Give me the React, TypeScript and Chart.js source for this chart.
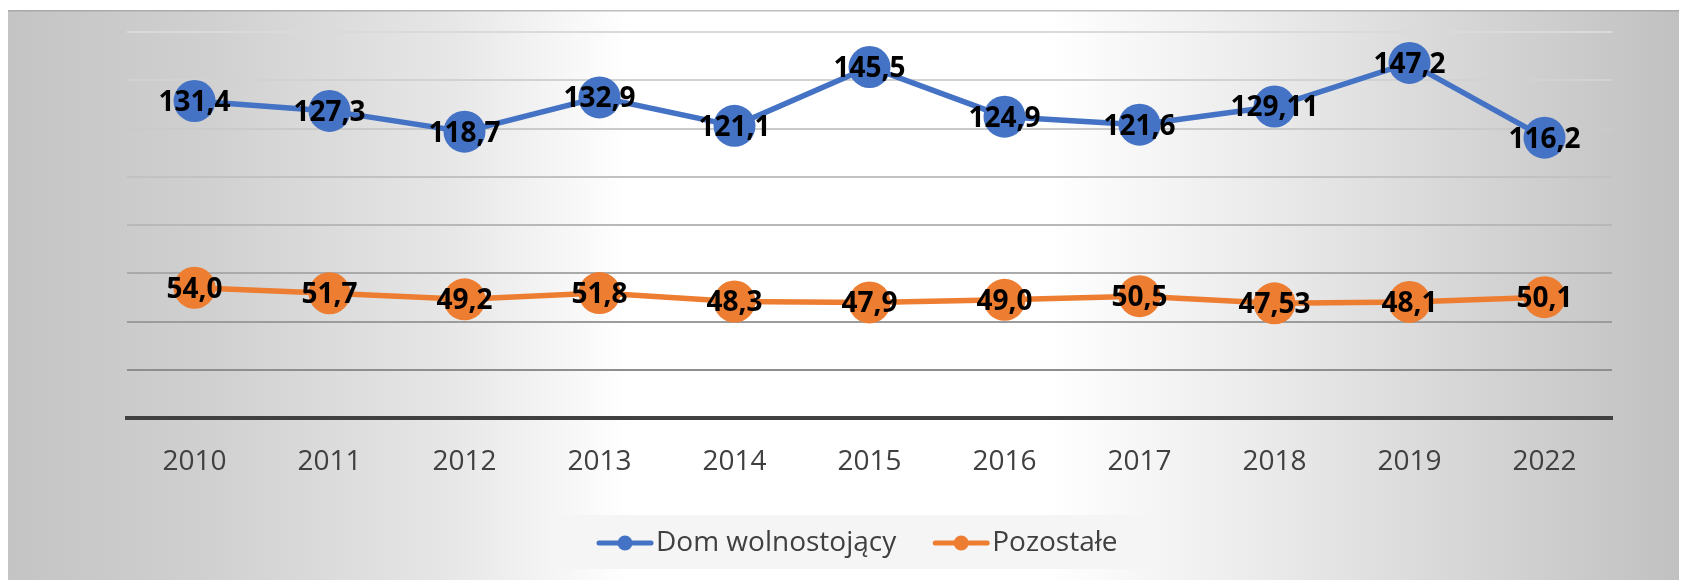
import React, { useEffect, useRef } from "react";
import { Chart, registerables } from "chart.js";

Chart.register(...registerables);

const categories = ["2010", "2011", "2012", "2013", "2014", "2015", "2016", "2017", "2018", "2019", "2022"];
const domValues = [131.4, 127.3, 118.7, 132.9, 121.1, 145.5, 124.9, 121.6, 129.11, 147.2, 116.2];
const domLabels = ["131,4", "127,3", "118,7", "132,9", "121,1", "145,5", "124,9", "121,6", "129,11", "147,2", "116,2"];
const otherValues = [54.0, 51.7, 49.2, 51.8, 48.3, 47.9, 49.0, 50.5, 47.53, 48.1, 50.1];
const otherLabels = ["54,0", "51,7", "49,2", "51,8", "48,3", "47,9", "49,0", "50,5", "47,53", "48,1", "50,1"];
const seriesNames = ["Dom wolnostojący", "Pozostałe"];
const seriesColors = ["#4472C4", "#ED7D31"];
const yMin = 0;
const yMax = 160;
const yStep = 20;

const W = 1679;
const H = 572;
const FONT = "'Open Sans', 'Noto Sans', sans-serif";

const bgPlugin = {
  id: "bgPanel",
  beforeDraw(chart: any) {
    const ctx = chart.ctx;
    ctx.save();
    ctx.fillStyle = "#ffffff";
    ctx.fillRect(0, 0, chart.width, chart.height);
    const g = ctx.createLinearGradient(0, 0, chart.width, 0);
    g.addColorStop(0, "#c4c4c4");
    g.addColorStop(0.12, "#d0d0d0");
    g.addColorStop(0.26, "#e6e6e6");
    g.addColorStop(0.37, "#ffffff");
    g.addColorStop(0.62, "#ffffff");
    g.addColorStop(0.74, "#ececec");
    g.addColorStop(0.88, "#d4d4d4");
    g.addColorStop(1, "#c0c0c0");
    ctx.fillStyle = g;
    ctx.fillRect(0, 2, chart.width, chart.height - 2);
    ctx.fillStyle = "rgba(150,150,150,0.6)";
    ctx.fillRect(0, 2, chart.width, 1.5);
    ctx.restore();
  },
};

const labelPlugin = {
  id: "valueLabels",
  afterDatasetsDraw(chart: any) {
    const ctx = chart.ctx;
    const all = [domLabels, otherLabels];
    ctx.save();
    ctx.font = `bold 28px ${FONT}`;
    ctx.fillStyle = "#000000";
    ctx.textAlign = "center";
    ctx.textBaseline = "middle";
    chart.data.datasets.forEach((_: any, di: number) => {
      const meta = chart.getDatasetMeta(di);
      meta.data.forEach((pt: any, i: number) => {
        ctx.fillText(all[di][i], pt.x, pt.y + 2);
      });
    });
    ctx.restore();
  },
};

const legendPlugin = {
  id: "customLegend",
  afterDraw(chart: any) {
    const ctx = chart.ctx;
    const boxX = 550;
    const boxY = 507;
    const boxW = 593;
    const boxH = 54;
    const cy = boxY + boxH / 2 + 1;
    ctx.save();
    ctx.fillStyle = "#f5f5f5";
    ctx.fillRect(boxX, boxY, boxW, boxH);
    ctx.font = `28px ${FONT}`;
    ctx.textBaseline = "middle";
    ctx.textAlign = "left";
    let x = boxX + 39;
    seriesNames.forEach((name, i) => {
      ctx.strokeStyle = seriesColors[i];
      ctx.lineWidth = 5;
      ctx.lineCap = "round";
      ctx.beginPath();
      ctx.moveTo(x + 2, cy);
      ctx.lineTo(x + 54, cy);
      ctx.stroke();
      ctx.fillStyle = seriesColors[i];
      ctx.beginPath();
      ctx.arc(x + 28, cy, 7.5, 0, Math.PI * 2);
      ctx.fill();
      ctx.fillStyle = "#404040";
      ctx.fillText(name, x + 59, cy);
      x = x + 59 + ctx.measureText(name).width + 37;
    });
    ctx.restore();
  },
};

const gridColors = ["#8e8e8e", "#8e8e8e", "#9c9c9c", "#aaaaaa", "#b8b8b8", "#c2c2c2", "#cacaca", "#d2d2d2", "#dadada"];

export default function App() {
  const ref = useRef<HTMLCanvasElement | null>(null);
  useEffect(() => {
    if (!ref.current) return;
    const chart = new Chart(ref.current, {
      type: "line",
      data: {
        labels: categories,
        datasets: [
          {
            label: seriesNames[0],
            data: domValues,
            borderColor: seriesColors[0],
            backgroundColor: seriesColors[0],
            borderWidth: 5.5,
            pointRadius: 21,
            pointBorderWidth: 0,
            pointHoverRadius: 21,
            tension: 0,
            clip: false as any,
          },
          {
            label: seriesNames[1],
            data: otherValues,
            borderColor: seriesColors[1],
            backgroundColor: seriesColors[1],
            borderWidth: 5.5,
            pointRadius: 21,
            pointBorderWidth: 0,
            pointHoverRadius: 21,
            tension: 0,
            clip: false as any,
          },
        ],
      },
      options: {
        responsive: false,
        animation: false,
        events: [],
        layout: { padding: { left: 119, right: 75, top: 24, bottom: 0 } },
        plugins: {
          legend: { display: false },
          tooltip: { enabled: false },
        },
        scales: {
          x: {
            offset: true,
            grid: { display: false, drawTicks: false, offset: true },
            border: { display: true, color: "#404040", width: 4 },
            ticks: {
              color: "#404040",
              font: { family: FONT, size: 28 },
              padding: 27,
              maxRotation: 0,
              autoSkip: false,
            },
            afterFit: (axis: any) => {
              axis.height = H - 410;
            },
          },
          y: {
            min: yMin,
            max: yMax,
            ticks: { display: false, stepSize: yStep },
            grid: {
              drawTicks: false,
              lineWidth: 2,
              color: (c: any) => gridColors[c.index] || "#bbbbbb",
            },
            border: { display: false },
            afterFit: (axis: any) => {
              axis.width = 0;
            },
          },
        },
      },
      plugins: [bgPlugin, labelPlugin, legendPlugin],
    });
    return () => chart.destroy();
  }, []);
  return (
    <div style={{ width: W, height: H }}>
      <canvas ref={ref} width={W} height={H} style={{ display: "block", width: W, height: H }} />
    </div>
  );
}
